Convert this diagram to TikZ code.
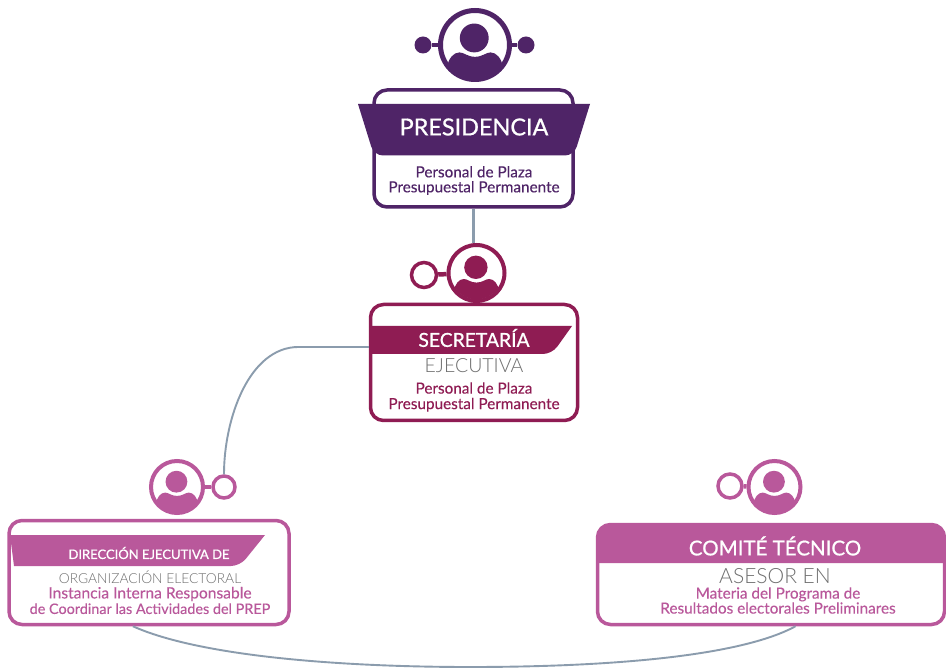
\documentclass[tikz,border=0pt]{standalone}
\usepackage{fontspec}
\setmainfont{Lato}[FakeBold=0.2]
\newfontfamily\headf{Lato}[FakeBold=0.8]
\newfontfamily\lightf{Lato Light}
\usetikzlibrary{calc}
\definecolor{cpres}{HTML}{4F2467}
\definecolor{csec}{HTML}{8F1C53}
\definecolor{cdir}{HTML}{B9589B}
\definecolor{cgray}{HTML}{6F6F6F}
\definecolor{cline}{HTML}{8B9CAD}
\tikzset{
  card/.style={draw=#1,line width=3.5pt,rounded corners=13pt,fill=white,inner sep=0pt},
  lbl/.style={inner sep=0pt,align=center,text=#1},
  link/.style={draw=cline,line width=1.9pt},
  ringdot/.style={circle,draw=#1,line width=3.5pt,fill=white,inner sep=0pt},
  dotfill/.style={circle,fill=#1,inner sep=0pt}
}
\newcommand{\personicon}[6]{% name,x,y,R,colour,ring width
  \node[circle,draw=#5,line width=#6pt,fill=white,inner sep=0pt,minimum size={2*#4pt-#6pt}] (#1) at (#2,#3) {};
  \begin{scope}[shift={(#2,#3)},x=#4pt,y=-#4pt]
    \begin{scope}
      \clip (0,0) circle (0.88);
      \fill[#5] (-0.85,1.1) -- (-0.76,0.62) .. controls (-0.72,0.36) and (-0.58,0.2) .. (-0.42,0.2)
        .. controls (-0.3,0.2) and (-0.2,0.32) .. (0,0.32)
        .. controls (0.2,0.32) and (0.3,0.2) .. (0.42,0.2)
        .. controls (0.58,0.2) and (0.72,0.36) .. (0.76,0.62) -- (0.85,1.1) -- cycle;
    \end{scope}
    \fill[#5] (-0.02,-0.19) circle (0.39);
  \end{scope}
}
\begin{document}
\begin{tikzpicture}[x=1pt,y=-1pt]
\useasboundingbox[fill=white] (0,0) rectangle (946,668);

% Presidencia
\node[card=cpres,minimum width=199pt,minimum height=117pt] (pres) at (473.5,148.5) {};
\fill[cpres] (358,104) -- (590,104) [rounded corners=9pt] -- (574,155.5) -- (374,155.5) [sharp corners] -- (358,104) -- cycle;
\node[lbl=white,font=\headf\fontsize{23.4}{24}\selectfont] (prest) at (474,127) {PRESIDENCIA};
\node[lbl=cpres,font=\fontsize{15.3}{15}\selectfont] (prest2) at (474,180.5) {Personal de Plaza\\Presupuestal Permanente};
\personicon{presi}{475}{45}{37}{cpres}{5}
\node[dotfill=cpres,minimum size=17pt] (presl) at (423,45) {};
\node[dotfill=cpres,minimum size=17pt] (presr) at (526,45) {};
\draw[cpres,line width=4.5pt] (presl) -- (presi) (presi) -- (presr);

% Secretaria
\node[card=csec,minimum width=207pt,minimum height=116pt] (sec) at (474,362.5) {};
\fill[csec] (371,326) -- (572,326) [rounded corners=9pt] -- (552,354) [sharp corners] -- (371,354) -- cycle;
\node[lbl=white,font=\headf\fontsize{19.3}{20}\selectfont] (sect) at (474,338) {SECRETARÍA};
\node[lbl=cgray,font=\lightf\fontsize{19.5}{20}\selectfont] (sect2) at (474,366) {EJECUTIVA};
\node[lbl=csec,font=\fontsize{15.3}{15.5}\selectfont] (sect3) at (474,397) {Personal de Plaza\\Presupuestal Permanente};
\personicon{seci}{476.5}{273}{30}{csec}{4}
\node[ringdot=csec,minimum size=25pt] (secr) at (424,275) {};
\draw[csec,line width=4.5pt] (secr) -- (seci);

% Direccion
\node[card=cdir,minimum width=280pt,minimum height=104pt] (dir) at (149,572.5) {};
\fill[cdir] (10,535) -- (265,535) [rounded corners=9pt] -- (240,566) [sharp corners] -- (14,566) -- cycle;
\node[lbl=white,font=\headf\fontsize{13}{15}\selectfont] (dirt) at (149,553) {DIRECCIÓN EJECUTIVA DE};
\node[lbl=cgray,font=\lightf\fontsize{13.8}{15}\selectfont] (dirt2) at (150,577) {ORGANIZACIÓN ELECTORAL};
\node[lbl=cdir,font=\fontsize{14.4}{15.5}\selectfont] (dirt3) at (150,600.5) {{\fontsize{15.6}{15.5}\selectfont Instancia Interna Responsable}\\de Coordinar las Actividades del PREP};
\personicon{diri}{177}{487}{28}{cdir}{4}
\node[ringdot=cdir,minimum size=22pt] (dirr) at (224,487) {};
\draw[cdir,line width=4.5pt] (diri) -- (dirr);

% Comite
\node[card=cdir,minimum width=347pt,minimum height=100pt] (com) at (771,574.5) {};
\fill[cdir] (597.5,563) [rounded corners=13pt] -- (597.5,524) -- (945,524) [sharp corners] -- (945,563) -- cycle;
\node[lbl=white,font=\headf\fontsize{20.5}{22}\selectfont] (comt) at (775,546) {COMITÉ TÉCNICO};
\node[lbl=cgray,font=\lightf\fontsize{21}{22}\selectfont] (comt2) at (775,576) {ASESOR EN};
\node[lbl=cdir,font=\fontsize{15.3}{15}\selectfont] (comt3) at (778,600.5) {Materia del Programa de\\Resultados electorales Preliminares};
\personicon{comi}{774.5}{487}{28}{cdir}{4}
\node[ringdot=cdir,minimum size=24pt] (comr) at (730,486) {};
\draw[cdir,line width=4.5pt] (comr) -- (comi);

% Connectors
\draw[link,line width=2.6pt] (pres.south) -- (pres.south |- seci.north);
\draw[link] ($(sec.north west)!0.37!(sec.south west)$) -- ++(-70,0) .. controls +(-50,0) and +(0,-55) .. (dirr.north);
\draw[link] ($(dir.south west)!0.443!(dir.south east)$) .. controls +(67,30) and +(-130,0) .. (470,667)
  .. controls +(140,0) and +(-55,30) .. ($(com.south west)!0.57!(com.south east)$);
\end{tikzpicture}
\end{document}
